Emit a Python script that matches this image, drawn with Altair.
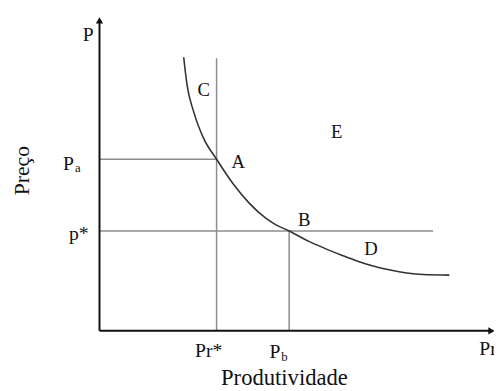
import altair as alt
import pandas as pd

# ---- data (diagram units: 0..100 on each axis) ----
curve_x = [21.4, 22.25, 23.9, 26.4, 29.75, 33.9, 38.1, 42.25, 44.75, 48.2, 53.1, 57.25,
           61.4, 65.6, 69.75, 73.9, 78.1, 82.25, 88.9]
curve_y = [86.9, 78.1, 69.7, 61.3, 54.5, 46.8, 40.5, 35.8, 33.75, 31.7, 28.5, 26.2,
           24.1, 22.1, 20.5, 19.3, 18.4, 17.9, 17.7]

pr_star = 29.75      # Pr*
p_b = 48.2           # Pb
p_a = 54.5           # Pa
p_star = 31.7        # p*
pr_star_top = 86.6   # top of the vertical line at Pr*
p_star_end = 84.75   # right end of the horizontal line at p*

region_labels = ["C", "A", "E", "B", "D"]
region_x = [26.5, 35.25, 60.25, 52.0, 69.0]
region_y = [76.4, 53.75, 63.0, 35.3, 26.1]

FONT = "Liberation Serif"

xs = alt.Scale(domain=[0, 100], nice=False, zero=False)
ys = alt.Scale(domain=[0, 100], nice=False, zero=False)
X = alt.X("x:Q", scale=xs, axis=None)
Y = alt.Y("y:Q", scale=ys, axis=None)

curve_df = pd.DataFrame({"x": curve_x, "y": curve_y})
curve = alt.Chart(curve_df).mark_line(
    color="#333333", strokeWidth=1.6, interpolate="monotone"
).encode(x=X, y=Y, order="x:Q")

guides_df = pd.DataFrame({
    "x": [pr_star, 0, 0, p_b],
    "y": [0, p_a, p_star, 0],
    "x2": [pr_star, pr_star, p_star_end, p_b],
    "y2": [pr_star_top, p_a, p_star, p_star],
})
guides = alt.Chart(guides_df).mark_rule(color="#8c8c8c", strokeWidth=1.5).encode(
    x=X, y=Y, x2="x2:Q", y2="y2:Q"
)

axes_df = pd.DataFrame({"x": [0, 0], "y": [0, 0], "x2": [0, 99], "y2": [98, 0]})
axes = alt.Chart(axes_df).mark_rule(color="#111111", strokeWidth=2).encode(
    x=X, y=Y, x2="x2:Q", y2="y2:Q"
)

arrow_up = alt.Chart(pd.DataFrame({"x": [0], "y": [98.6]})).mark_point(
    shape="triangle-up", filled=True, size=55, color="#111111", opacity=1
).encode(x=X, y=Y)
arrow_right = alt.Chart(pd.DataFrame({"x": [99.6], "y": [0]})).mark_point(
    shape="triangle-right", filled=True, size=55, color="#111111", opacity=1
).encode(x=X, y=Y)

regions = alt.Chart(pd.DataFrame({"x": region_x, "y": region_y, "t": region_labels})).mark_text(
    font=FONT, fontSize=19, color="#111111", align="center", baseline="middle"
).encode(x=X, y=Y, text="t:N")


def label(x, y, text, **kw):
    props = dict(font=FONT, fontSize=20, color="#111111", baseline="alphabetic")
    props.update(kw)
    return alt.Chart(pd.DataFrame({"x": [x], "y": [y], "t": [text]})).mark_text(**props).encode(
        x=X, y=Y, text="t:N"
    )


texts = [
    label(0, 100, "P", align="right", dx=-6, dy=25),
    label(0, p_a, "P", align="right", dx=-26, dy=11),
    label(0, p_a, "a", align="left", dx=-25, dy=13, fontSize=13),
    label(0, p_star, "p*", align="right", dx=-11, dy=9),
    label(pr_star, 0, "Pr*", align="center", dx=-8, dy=27),
    label(p_b, 0, "P", align="right", dx=-9, dy=28),
    label(p_b, 0, "b", align="left", dx=-8, dy=31, fontSize=13),
    label(100, 0, "Pr", align="left", dx=-14, dy=25),
    label(47, 0, "Produtividade", align="center", dy=55, fontSize=23),
    label(-19.75, 50.9, "Preço", align="center", baseline="middle", angle=270, fontSize=22),
]

chart = alt.layer(guides, curve, axes, arrow_up, arrow_right, regions, *texts).properties(
    width=400,
    height=320,
    autosize=alt.AutoSizeParams(type="none"),
    padding={"left": 93, "top": 5, "right": 1, "bottom": 58},
    background="white",
).configure_view(stroke=None)

chart.save("out.html", embed_options={"renderer": "svg", "actions": False})
